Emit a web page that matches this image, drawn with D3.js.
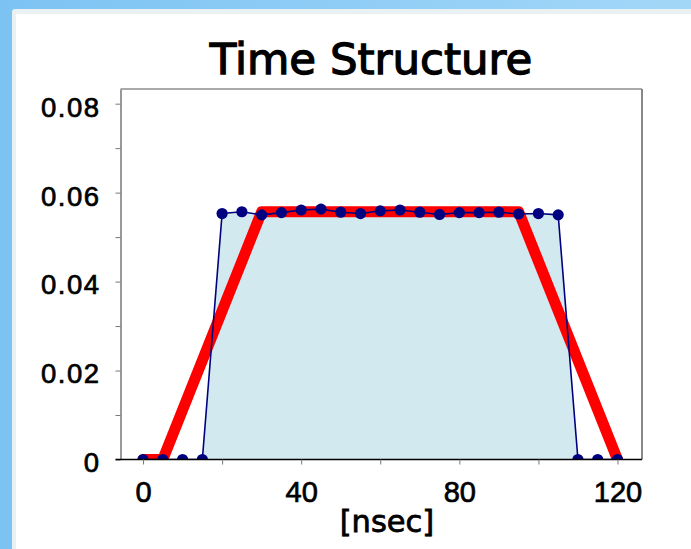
<!DOCTYPE html>
<html>
<head>
<meta charset="utf-8">
<script src="https://cdn.jsdelivr.net/npm/d3@7"></script>
<style>
  body { margin: 0; overflow: hidden; }
  svg { display: block; font-family: 'DejaVu Sans', sans-serif; }
</style>
</head>
<body>
<div id="chart"></div>
<script>
// measured pulse (blue dots) and ideal trapezoid (red)
const blueTimes = [0, 5, 10, 15, 20, 25, 30, 35, 40, 45, 50, 55, 60, 65, 70, 75, 80, 85, 90, 95, 100, 105, 110, 115, 120]
const blueValues = [0, 0, 0, 0, 0.0553, 0.0557, 0.0550, 0.0555, 0.0561, 0.0563, 0.0556, 0.0553, 0.0559,
  0.0561, 0.0556, 0.0551, 0.0555, 0.0555, 0.0556, 0.0552, 0.0553, 0.0550, 0, 0, 0]
const redTimes = [0, 5, 30, 95, 120]
const redValues = [0, 0, 0.0557, 0.0557, 0]
const xTicks = [0, 20, 40, 60, 80, 100, 120]
const xTickLabels = ['0', '', '40', '', '80', '', '120']
const yTicks = [0, 0.01, 0.02, 0.03, 0.04, 0.05, 0.06, 0.07, 0.08]
const yTickLabels = ['0', '', '0.02', '', '0.04', '', '0.06', '', '0.08']
const title = 'Time Structure'
const xTitle = '[nsec]'

const width = 691
const height = 549
const plot = { left: 120.5, right: 642, top: 89, bottom: 459.5 }

const svg = d3.select('#chart')
  .append('svg')
  .attr('width', width)
  .attr('height', height)

// window-ish backdrop
const defs = svg.append('defs')
const grad = defs.append('linearGradient')
  .attr('id', 'bg')
  .attr('x1', 0).attr('y1', 0).attr('x2', 1).attr('y2', 0)
grad.append('stop').attr('offset', '0%').attr('stop-color', '#7cc3f3')
grad.append('stop').attr('offset', '100%').attr('stop-color', '#a3d7f8')
svg.append('rect').attr('width', width).attr('height', height).attr('fill', 'url(#bg)')
svg.append('rect')
  .attr('x', 12).attr('y', 9)
  .attr('width', width).attr('height', height)
  .attr('rx', 3)
  .attr('fill', '#eaf1f2')
svg.append('rect')
  .attr('x', 16).attr('y', 14)
  .attr('width', width).attr('height', height)
  .attr('fill', '#ffffff')

const x = d3.scaleLinear().domain([-5.7, 126.2]).range([plot.left, plot.right])
const y = d3.scaleLinear().domain([0, 0.0833]).range([plot.bottom, plot.top])

defs.append('clipPath')
  .attr('id', 'plot-clip')
  .append('rect')
  .attr('x', plot.left)
  .attr('y', plot.top)
  .attr('width', plot.right - plot.left)
  .attr('height', plot.bottom - plot.top)

const blue = blueTimes.map((t, i) => [t, blueValues[i]])
const red = redTimes.map((t, i) => [t, redValues[i]])

const g = svg.append('g').attr('clip-path', 'url(#plot-clip)')

g.append('path')
  .datum(blue)
  .attr('fill', '#d3e9f0')
  .attr('d', d3.area().x(d => x(d[0])).y0(y(0)).y1(d => y(d[1])))

g.append('path')
  .datum(red)
  .attr('fill', 'none')
  .attr('stroke', '#ff0000')
  .attr('stroke-width', 11)
  .attr('stroke-linejoin', 'round')
  .attr('stroke-linecap', 'round')
  .attr('d', d3.line().x(d => x(d[0])).y(d => y(d[1])))

g.append('path')
  .datum(blue)
  .attr('fill', 'none')
  .attr('stroke', '#000080')
  .attr('stroke-width', 1.6)
  .attr('d', d3.line().x(d => x(d[0])).y(d => y(d[1])))

g.selectAll('circle')
  .data(blue)
  .join('circle')
  .attr('cx', d => x(d[0]))
  .attr('cy', d => y(d[1]))
  .attr('r', 5.6)
  .attr('fill', '#000080')

// frame (top + right)
svg.append('path')
  .attr('d', `M${plot.left},${plot.top}H${plot.right}`)
  .attr('stroke', '#555')
  .attr('fill', 'none')
svg.append('path')
  .attr('d', `M${plot.right},${plot.top}V${plot.bottom}`)
  .attr('stroke', '#888')
  .attr('stroke-width', 2)
  .attr('fill', 'none')

const yAxis = svg.append('g')
  .attr('transform', `translate(${plot.left},0)`)
  .call(d3.axisLeft(y)
    .tickValues(yTicks)
    .tickSize(5)
    .tickSizeOuter(0)
    .tickPadding(15)
    .tickFormat((d, i) => yTickLabels[i]))
yAxis.select('.domain').attr('stroke', '#777').attr('stroke-width', 1.5)
yAxis.selectAll('.tick line').attr('stroke', '#777')
yAxis.selectAll('.tick text')
  .attr('dy', '0.45em')
  .attr('fill', '#000')
  .attr('stroke', '#000')
  .attr('stroke-width', 0.7)
  .style('letter-spacing', '1.5px')
  .style('font-size', '27.5px')

const xAxis = svg.append('g')
  .attr('transform', `translate(0,${plot.bottom})`)
  .call(d3.axisBottom(x)
    .tickValues(xTicks)
    .tickSize(5)
    .tickSizeOuter(0)
    .tickPadding(17)
    .tickFormat((d, i) => xTickLabels[i]))
xAxis.select('.domain')
  .attr('d', `M${plot.left - 5},0H${plot.right}`)
  .attr('stroke', '#000')
  .attr('stroke-width', 1.5)
xAxis.selectAll('.tick line').attr('stroke', '#777')
xAxis.selectAll('.tick text')
  .attr('fill', '#000')
  .attr('stroke', '#000')
  .attr('stroke-width', 0.7)
  .style('font-size', '29px')

svg.append('text')
  .attr('x', 371)
  .attr('y', 73.5)
  .attr('text-anchor', 'middle')
  .attr('stroke', '#000')
  .attr('stroke-width', 1.3)
  .style('font-size', '43.5px')
  .text(title)

svg.append('text')
  .attr('x', 387)
  .attr('y', 531.5)
  .attr('text-anchor', 'middle')
  .attr('stroke', '#000')
  .attr('stroke-width', 0.8)
  .style('font-size', '30.5px')
  .text(xTitle)
</script>
</body>
</html>
